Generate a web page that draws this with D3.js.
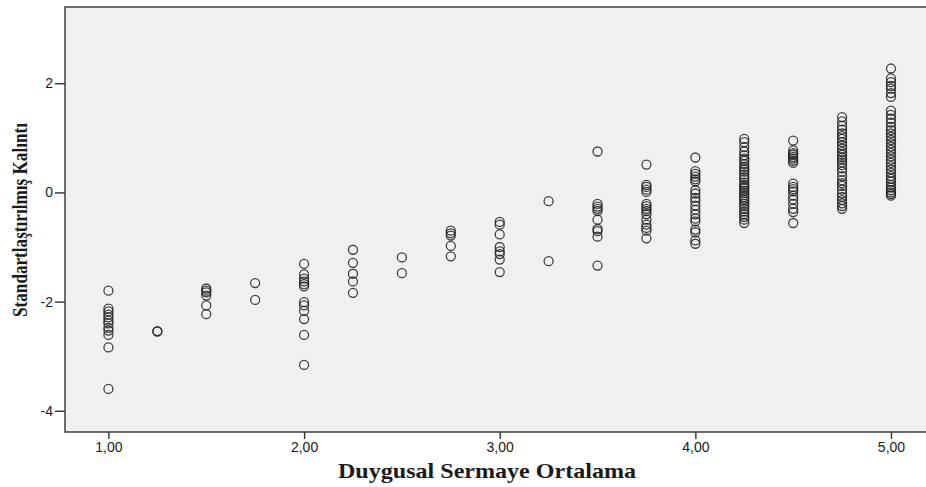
<html>
  <head>
    <meta charset="utf-8">
    <title>Standartlaştırılmış Kalıntı</title>
    <style>
      body { margin: 0; background: #fff; }
    </style>
  </head>
  <body>
    <script src="https://d3js.org/d3.v7.min.js"></script>
    <script>
      // x categories (Duygusal Sermaye Ortalama) and the residuals read for each one
      const xCats = [1.00, 1.25, 1.50, 1.75, 2.00, 2.25, 2.50, 2.75, 3.00, 3.25, 3.50, 3.75, 4.00, 4.25, 4.50, 4.75, 5.00];
      const yGroups = [
        [-1.80, -2.13, -2.18, -2.24, -2.29, -2.35, -2.40, -2.48, -2.53, -2.61, -2.84, -3.60],
        [-2.54, -2.55],
        [-1.76, -1.80, -1.83, -1.89, -2.07, -2.23],
        [-1.66, -1.97],
        [-1.31, -1.50, -1.58, -1.63, -1.68, -1.72, -2.01, -2.07, -2.17, -2.32, -2.61, -3.16],
        [-1.05, -1.29, -1.49, -1.63, -1.84],
        [-1.19, -1.48],
        [-0.70, -0.75, -0.79, -0.98, -1.17],
        [-0.54, -0.59, -0.77, -1.00, -1.08, -1.13, -1.23, -1.46],
        [-0.16, -1.26],
        [0.75, -0.21, -0.26, -0.30, -0.34, -0.50, -0.67, -0.71, -0.81, -1.34],
        [0.51, 0.14, 0.10, 0.05, 0.01, -0.21, -0.25, -0.30, -0.34, -0.40, -0.50, -0.59, -0.65, -0.70, -0.84],
        [0.64, 0.39, 0.34, 0.29, 0.24, 0.20, 0.04, -0.02, -0.10, -0.16, -0.24, -0.32, -0.40, -0.48, -0.53, -0.68, -0.73, -0.88, -0.94],
        [0.98, 0.92, 0.83, 0.75, 0.68, 0.62, 0.58, 0.52, 0.47, 0.42, 0.38, 0.33, 0.28, 0.24, 0.18, 0.14, 0.10, 0.07, 0.03, -0.01, -0.05, -0.09, -0.13, -0.17, -0.21, -0.25, -0.30, -0.35, -0.40, -0.45, -0.50, -0.56],
        [0.95, 0.77, 0.72, 0.69, 0.65, 0.62, 0.58, 0.54, 0.16, 0.10, 0.06, 0.02, -0.06, -0.13, -0.21, -0.30, -0.36, -0.56],
        [1.38, 1.30, 1.22, 1.15, 1.08, 1.03, 0.98, 0.92, 0.86, 0.80, 0.74, 0.69, 0.64, 0.60, 0.55, 0.50, 0.44, 0.38, 0.30, 0.22, 0.17, 0.12, 0.05, -0.02, -0.08, -0.14, -0.20, -0.25, -0.30],
        [2.27, 2.09, 2.02, 1.95, 1.90, 1.82, 1.75, 1.50, 1.42, 1.35, 1.28, 1.20, 1.14, 1.08, 1.02, 0.96, 0.90, 0.84, 0.78, 0.72, 0.66, 0.60, 0.54, 0.48, 0.42, 0.36, 0.30, 0.25, 0.20, 0.14, 0.09, 0.04, 0.00, -0.03, -0.06]
      ];
      const xTicks = [1, 2, 3, 4, 5];
      const yTicks = [-4, -2, 0, 2];
      const xTitle = "Duygusal Sermaye Ortalama";
      const yTitle = "Standartlaştırılmış Kalıntı";

      const width = 926;
      const height = 487;
      const margin = {top: 7, right: 0, bottom: 55, left: 65};

      // flatten groups into points
      const points = [];
      xCats.forEach((xv, i) => yGroups[i].forEach(yv => points.push({x: xv, y: yv})));

      const x = d3.scaleLinear()
          .domain([0.778, 5.179])
          .range([margin.left, width - margin.right]);
      const y = d3.scaleLinear()
          .domain([-4.389, 3.397])
          .range([height - margin.bottom, margin.top]);

      const svg = d3.select("body").append("svg")
          .attr("width", width)
          .attr("height", height)
          .attr("viewBox", [0, 0, width, height]);

      // plot background with frame (right edge falls outside the picture)
      svg.append("rect")
          .attr("x", margin.left)
          .attr("y", margin.top)
          .attr("width", width - margin.left + 2)
          .attr("height", height - margin.bottom - margin.top)
          .attr("fill", "#f0f0f0")
          .attr("stroke", "#333")
          .attr("stroke-width", 1.4);

      // points
      svg.append("g")
          .attr("fill", "none")
          .attr("stroke", "#222")
          .attr("stroke-opacity", 0.85)
          .attr("stroke-width", 1.3)
        .selectAll("circle")
        .data(points)
        .join("circle")
          .attr("cx", d => x(d.x))
          .attr("cy", d => y(d.y))
          .attr("r", 4.5);

      const xAxis = svg.append("g")
          .attr("transform", `translate(0,${height - margin.bottom})`)
          .call(d3.axisBottom(x).tickValues(xTicks).tickSize(7).tickPadding(3)
            .tickFormat(d => d.toFixed(2).replace(".", ",")));
      const yAxis = svg.append("g")
          .attr("transform", `translate(${margin.left},0)`)
          .call(d3.axisLeft(y).tickValues(yTicks).tickSize(10).tickPadding(2)
            .tickFormat(d => String(d)));

      [xAxis, yAxis].forEach(g => {
        g.select(".domain").remove();
        g.selectAll(".tick line").attr("stroke", "#333").attr("stroke-width", 1.4);
        g.selectAll(".tick text")
          .attr("fill", "#1a1a1a")
          .attr("font-family", "Liberation Sans, Arial, sans-serif")
          .attr("font-size", 14);
      });

      // axis titles
      svg.append("text")
          .attr("x", 487)
          .attr("y", 478)
          .attr("text-anchor", "middle")
          .attr("font-family", "Liberation Serif, Times New Roman, serif")
          .attr("font-weight", "bold")
          .attr("font-size", 22)
          .attr("fill", "#1a1a1a")
          .attr("textLength", 298)
          .attr("lengthAdjust", "spacingAndGlyphs")
          .text(xTitle);

      svg.append("text")
          .attr("transform", "translate(27,220) rotate(-90)")
          .attr("text-anchor", "middle")
          .attr("font-family", "Liberation Serif, Times New Roman, serif")
          .attr("font-weight", "bold")
          .attr("font-size", 21)
          .attr("fill", "#1a1a1a")
          .attr("textLength", 194)
          .attr("lengthAdjust", "spacingAndGlyphs")
          .text(yTitle);
    </script>
  </body>
</html>
